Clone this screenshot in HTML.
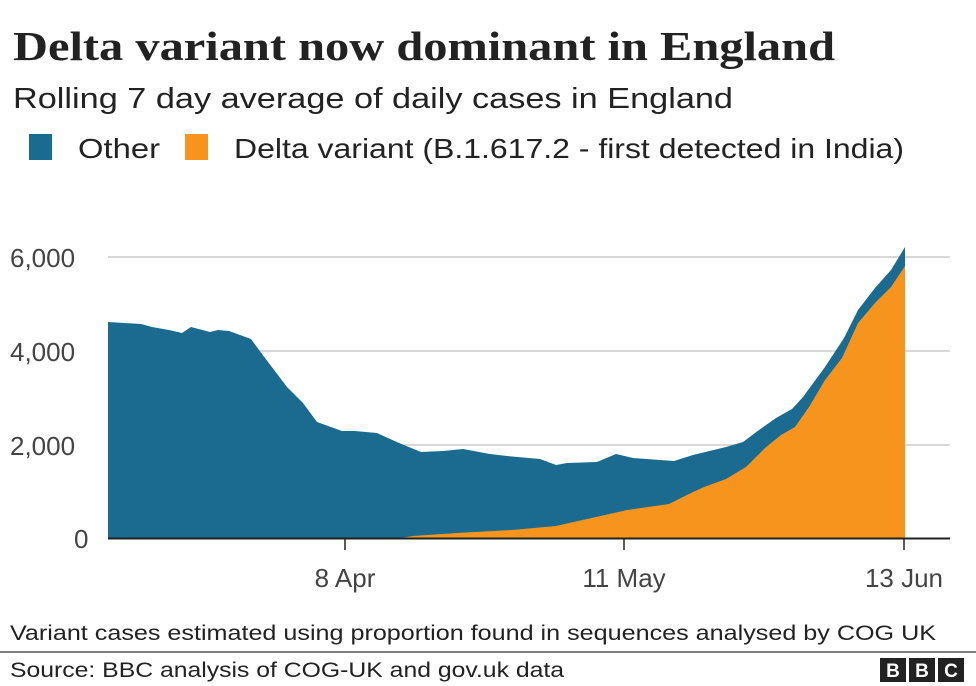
<!DOCTYPE html>
<html><head><meta charset="utf-8"><style>html,body{margin:0;padding:0;background:#fff}svg{display:block}</style></head>
<body>
<svg width="976" height="686" viewBox="0 0 976 686" xmlns="http://www.w3.org/2000/svg">
<rect width="976" height="686" fill="#fff"/>
<text x="13" y="60" font-family="Liberation Serif, serif" font-weight="bold" font-size="41" fill="#222" textLength="822" lengthAdjust="spacingAndGlyphs">Delta variant now dominant in England</text>
<text x="13" y="108" font-family="Liberation Sans, sans-serif" font-size="29" fill="#222" textLength="720" lengthAdjust="spacingAndGlyphs">Rolling 7 day average of daily cases in England</text>
<rect x="29" y="134" width="23" height="26" fill="#1a6b8f"/>
<text x="78" y="158" font-family="Liberation Sans, sans-serif" font-size="28" fill="#222" textLength="82" lengthAdjust="spacingAndGlyphs">Other</text>
<rect x="185" y="134" width="23" height="26" fill="#f7941d"/>
<text x="234" y="158" font-family="Liberation Sans, sans-serif" font-size="28" fill="#222" textLength="670" lengthAdjust="spacingAndGlyphs">Delta variant (B.1.617.2 - first detected in India)</text>
<g stroke="#ccc" stroke-width="1.5">
<line x1="108" y1="257" x2="950" y2="257"/>
<line x1="108" y1="351" x2="950" y2="351"/>
<line x1="108" y1="445" x2="950" y2="445"/>
</g>
<g font-family="Liberation Sans, sans-serif" font-size="26" fill="#444">
<text x="10" y="267">6,000</text>
<text x="10" y="361">4,000</text>
<text x="10" y="455">2,000</text>
<text x="74" y="548">0</text>
</g>
<path fill="#1a6b8f" d="M108,538 L108,322 141,324 152,327 169,330 182,333 191,327 210,332 218,330 229,331 251,339 265,358 287,387 303,403 317,422 342,431 355,431 377,433 399,443 421,452 443,451 463,449 490,454 507,456 540,459 556,465 567,463 597,462 616,454 633,458 660,460 674,461 693,455 726,447 743,442 759,430 776,418 792,409 803,397 825,367 844,338 858,310 875,288 891,270 905,247 905,538 Z"/>
<path fill="#f7941d" d="M400,538 L413,536 457,533 512,530 556,526 578,521 605,515 627,510 669,504 691,493 704,487 726,479 746,467 765,448 781,435 795,427 809,407 825,380 842,358 858,323 875,303 891,287 905,266 905,538 Z"/>
<line x1="108" y1="538.5" x2="950" y2="538.5" stroke="#222" stroke-width="2"/>
<g stroke="#222" stroke-width="1.5">
<line x1="345" y1="538" x2="345" y2="550"/>
<line x1="624" y1="538" x2="624" y2="550"/>
<line x1="904" y1="538" x2="904" y2="550"/>
</g>
<g font-family="Liberation Sans, sans-serif" font-size="26" fill="#444" text-anchor="middle">
<text x="345" y="587">8 Apr</text>
<text x="624" y="587">11 May</text>
<text x="904" y="587">13 Jun</text>
</g>
<text x="10" y="640" font-family="Liberation Sans, sans-serif" font-size="21" fill="#222" textLength="926" lengthAdjust="spacingAndGlyphs">Variant cases estimated using proportion found in sequences analysed by COG UK</text>
<line x1="0" y1="652" x2="976" y2="652" stroke="#555" stroke-width="1.5"/>
<text x="10" y="677" font-family="Liberation Sans, sans-serif" font-size="21" fill="#222" textLength="554" lengthAdjust="spacingAndGlyphs">Source: BBC analysis of COG-UK and gov.uk data</text>
<g font-family="Liberation Sans, sans-serif" font-weight="bold" font-size="19" fill="#fff" text-anchor="middle">
<rect x="880" y="658" width="26" height="24" fill="#222"/><text x="893" y="677">B</text>
<rect x="909" y="658" width="26" height="24" fill="#222"/><text x="922" y="677">B</text>
<rect x="938" y="658" width="26" height="24" fill="#222"/><text x="951" y="677">C</text>
</g>
</svg>
</body></html>
